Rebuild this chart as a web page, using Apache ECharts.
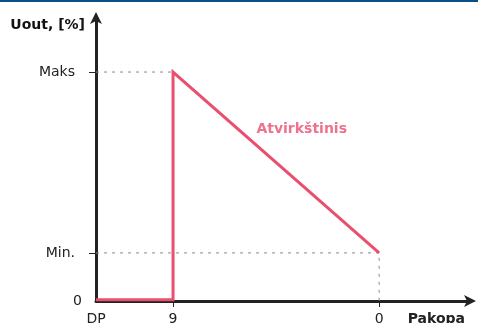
<!DOCTYPE html>
<html><head><meta charset="utf-8">
<script src="https://cdn.jsdelivr.net/npm/echarts@6/dist/echarts.min.js"></script>
<style>html,body{margin:0;padding:0;background:#fff}#c{width:478px;height:323px}</style>
</head><body><div id="c"></div>
<script>
// x positions of the stages along the axis (0..100 schematic scale)
const xTickValues = [0, 20.6, 75.7];
const xTickLabels = ['DP', '9', '0'];
// y levels in % of max output
const yTickValues = [0, 21, 100];
const yTickLabels = ['0', 'Min.', 'Maks'];
// reverse characteristic line (x, y)
const lineX = [0, 20.6, 20.6, 75.7];
const lineY = [0.6, 0.6, 100, 21];
const seriesName = 'Atvirkštinis';
const xName = 'Pakopa';
const yName = 'Uout, [%]';

const red = '#e94f6e';
const axisColor = '#222';
const grey = '#8a8a8a';
const font = 'DejaVu Sans, Verdana, sans-serif';
const fs = 14;

const chart = echarts.init(document.getElementById('c'));
const labelMapX = {}; xTickValues.forEach((v,i)=>labelMapX[v]=xTickLabels[i]);
const labelMapY = {}; yTickValues.forEach((v,i)=>labelMapY[v]=yTickLabels[i]);

chart.setOption({
  animation: false,
  graphic: [{type:'rect', left:0, top:0, shape:{width:478, height:2}, style:{fill:'#0b4f8a'}}],
  grid: {left: 96, right: 8, top: 18, bottom: 22, containLabel: false, outerBoundsMode: 'none'},
  xAxis: {
    type: 'value', min: 0, max: 100,
    name: xName, nameLocation: 'end', nameGap: 0,
    nameTextStyle: {fontFamily: font, fontWeight: 'bold', fontSize: fs, color: '#222',
      align: 'right', verticalAlign: 'top', padding: [11, 5, 0, 0]},
    axisLine: {show: true, symbol: ['none', 'arrow'], symbolSize: [9, 12], symbolOffset: [0, 6],
      lineStyle: {color: axisColor, width: 3}},
    axisTick: {show: true, customValues: xTickValues.slice(1), length: 6, inside: false,
      lineStyle: {color: axisColor, width: 1}},
    axisLabel: {customValues: xTickValues, formatter: v => labelMapX[v] ?? '',
      fontFamily: font, fontSize: fs, color: '#222', margin: 11},
    splitLine: {show: false}
  },
  yAxis: {
    type: 'value', min: 0, max: 123.6,
    name: yName, nameLocation: 'end', nameGap: -7,
    nameTextStyle: {fontFamily: font, fontWeight: 'bold', fontSize: fs, color: '#111',
      align: 'right', verticalAlign: 'middle', padding: [0, 11, 0, 0]},
    axisLine: {show: true, symbol: ['none', 'arrow'], symbolSize: [9, 12], symbolOffset: [0, 6],
      lineStyle: {color: axisColor, width: 3}},
    axisTick: {show: true, customValues: yTickValues.slice(1), length: 7,
      lineStyle: {color: axisColor, width: 1}},
    axisLabel: {customValues: yTickValues,
      formatter: v => (v === 0 ? labelMapY[v] : (labelMapY[v] ?? '') + '{s|}'),
      rich: {s: {width: 7}},
      fontFamily: font, fontSize: fs, color: '#222', margin: 14},
    splitLine: {show: false}
  },
  series: [
    {type: 'line', silent: true, symbol: 'none', z: 1,
      lineStyle: {color: grey, width: 1, type: [3, 5]},
      data: [[0, yTickValues[2]], [lineX[2], yTickValues[2]]]},
    {type: 'line', silent: true, symbol: 'none', z: 1,
      lineStyle: {color: grey, width: 1, type: [3, 5]},
      data: [[0, yTickValues[1]], [lineX[3], yTickValues[1]], [lineX[3], 0]]},
    {type: 'line', name: seriesName, symbol: 'none', z: 5,
      lineStyle: {color: red, width: 3, join: 'miter'},
      data: lineX.map((x,i)=>[x, lineY[i]])},
    {type: 'scatter', silent: true, symbolSize: 0, z: 6,
      data: [[55, 75]],
      label: {show: true, formatter: seriesName, position: 'inside',
        fontFamily: font, fontWeight: 'bold', fontSize: fs, color: red}}
  ]
});
</script></body></html>
